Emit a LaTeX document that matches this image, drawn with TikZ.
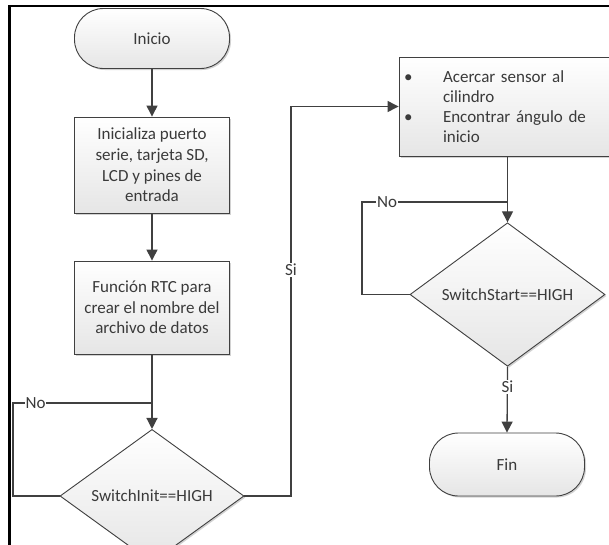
\documentclass[tikz,border=0pt]{standalone}
\usepackage{fontspec}
\setmainfont{Carlito}
\usetikzlibrary{arrows.meta,shapes.geometric,shadows}
\definecolor{ln}{HTML}{404040}
\definecolor{tx}{HTML}{3A3A3A}
\begin{document}
\begin{tikzpicture}[x=1pt,y=-1pt,
  font=\fontsize{17}{20.6}\selectfont,
  shp/.style={draw=ln, line width=0.9pt, top color=white, bottom color=black!10,
    drop shadow={shadow xshift=1.5pt,shadow yshift=-1.5pt,fill=black!35,opacity=0.5},
    text=tx, inner sep=0pt, align=center},
  term/.style={shp, rectangle, rounded corners=29pt, minimum width=155pt, minimum height=60pt},
  proc/.style={shp, rectangle, minimum width=155pt},
  dec/.style={shp, diamond, minimum height=92pt},
  conn/.style={draw=ln, line width=1.3pt},
  arr/.style={conn, -{Triangle[length=11pt,width=11pt]}},
  lbl/.style={fill=white, text=tx, inner sep=1pt}
]
\useasboundingbox (0,0) rectangle (609,544);
\clip (0,0) rectangle (609,544);
\fill[white] (0,0) rectangle (609,544);

% nodes
\node[term] (ini) at (152,38.5) {Inicio};
\node[proc, minimum height=96pt] (b1) at (152,165) {Inicializa puerto\\serie, tarjeta SD,\\LCD y pines de\\entrada};
\node[proc, minimum height=93pt] (b2) at (152,307.5) {Función RTC para\\crear el nombre del\\archivo de datos};
\node[dec, minimum width=184pt] (d1) at (152,496) {SwitchInit==HIGH};
\node[proc, minimum width=216pt, minimum height=99pt, text width=206pt, inner xsep=5pt, align=left,
  font=\fontsize{17}{20}\selectfont] (b3) at (507,106.5)
  {\makebox[39pt][l]{\textbullet}Acercar sensor al\\\hspace*{39pt}cilindro\\\makebox[39pt][l]{\textbullet}Encontrar ángulo de\\\hspace*{39pt}inicio};
\node[dec, minimum width=195pt] (d2) at (507.5,294.5) {SwitchStart==HIGH};
\node[term, minimum height=63pt] (fin) at (507,464.5) {Fin};

% connectors
\coordinate (j1) at (152,403);
\coordinate (j2) at (507.5,202);
\draw[arr] (ini.south) -- (b1.north);
\draw[arr] (b1.south) -- (b2.north);
\draw[arr] (b2.south) -- (d1.north);
\draw[conn] (d1.west) -- (13,496) |- (j1);
\node[lbl] (no1) at (35.5,403) {No};
\draw[arr] (d1.east) -- (291,496) |- (b3.west);
\node[lbl] (si1) at (291,270) {Si};
\draw[arr] (b3.south -| j2) -- (d2.north);
\draw[conn] (d2.west) -- (362,294.5) |- (j2);
\node[lbl] (no2) at (387,202) {No};
\draw[arr] (d2.south) -- (fin.north);
\node[lbl] (si2) at (507.5,387) {Si};

% frame
\draw[line width=2.5pt, black] (9.5,545) -- (9.5,6) -- (610,6);
\end{tikzpicture}
\end{document}
